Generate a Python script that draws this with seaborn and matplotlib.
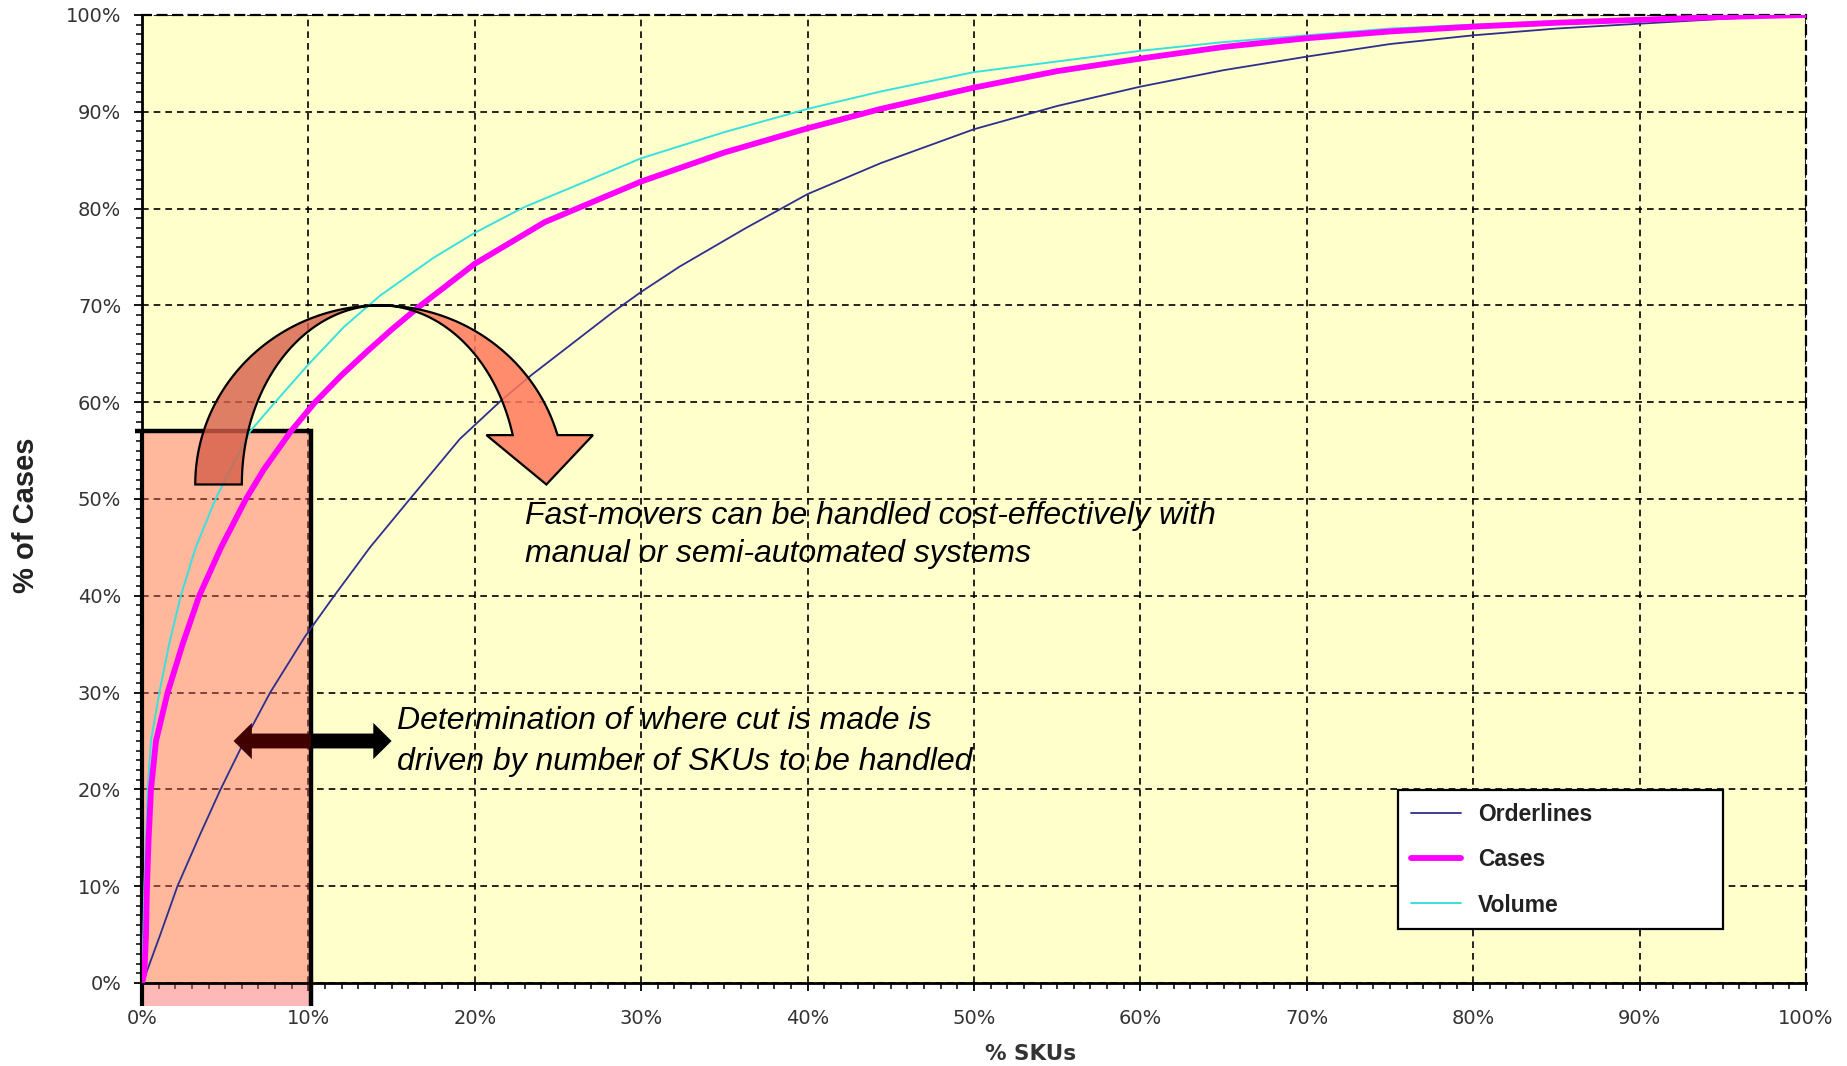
import numpy as np
import pandas as pd
import matplotlib
matplotlib.use("Agg")
import matplotlib.pyplot as plt
import seaborn as sns
from matplotlib.patches import Polygon, Rectangle
from matplotlib.ticker import MultipleLocator, FuncFormatter

# ---------------- data (percent of SKUs -> cumulative percent) ----------------
orderlines_x = [0, 0.14, 1.1, 2.13, 3.4, 4.72, 6.15, 7.7, 9.8, 11.55, 13.7, 16.1, 19.1,
                21.6, 23.4, 28.3, 30, 32.3, 36.3, 40, 44.4, 50, 55, 60, 65, 70, 75,
                80, 85, 90, 95, 100]
orderlines_y = [0, 0.5, 5, 10, 15, 20, 25, 30, 35.8, 40, 45, 50, 56.2,
                60.2, 62.8, 69.3, 71.4, 74.0, 78.0, 81.5, 84.7, 88.2, 90.6, 92.6, 94.3, 95.7, 97.0,
                97.9, 98.6, 99.1, 99.6, 100]

cases_x = [0, 0.14, 0.24, 0.3, 0.4, 0.54, 0.84, 1.54, 2.44, 3.44, 4.75, 6.25, 7.3,
           8.95, 10.4, 12.0, 13.5, 15.0, 16.6, 20, 24.2, 30, 35, 40, 44.4, 50, 55, 60, 65,
           70, 75, 80, 85, 90, 95, 100]
cases_y = [0, 1, 5, 10, 15, 20, 25, 30, 35, 40, 45, 50, 53,
           57, 60, 62.8, 65.2, 67.5, 69.8, 74.3, 78.6, 82.8, 85.8, 88.3, 90.3, 92.5, 94.2, 95.5, 96.7,
           97.6, 98.3, 98.8, 99.2, 99.5, 99.8, 100]

volume_x = [0, 0.04, 0.14, 0.34, 0.54, 1.04, 1.63, 2.33, 3.23, 4.42, 5.3, 6.5, 8.0, 10,
            12.15, 14.3, 17.5, 20, 22.9, 30, 35, 40, 44.4, 50, 55, 60, 65, 70, 75, 80,
            85, 90, 95, 100]
volume_y = [0, 2, 10, 20, 25, 30, 35, 40, 45, 50, 53, 57, 60, 63.9,
            67.8, 71.0, 74.9, 77.5, 80.1, 85.2, 87.9, 90.3, 92.1, 94.1, 95.2, 96.3, 97.2, 97.9, 98.6, 99.0,
            99.35, 99.6, 99.85, 100]

series_names = ["Orderlines", "Cases", "Volume"]
x_ticks = [0, 10, 20, 30, 40, 50, 60, 70, 80, 90, 100]
y_ticks = [0, 10, 20, 30, 40, 50, 60, 70, 80, 90, 100]

note_fast = ["Fast-movers can be handled cost-effectively with",
             "manual or semi-automated systems"]
note_cut = ["Determination of where cut is made is",
            "driven by number of SKUs to be handled"]

# ---------------- figure ----------------
sns.set_style("ticks")
plt.rcParams['font.family'] = ['DejaVu Sans']

W, H = 1847, 1066
fig = plt.figure(figsize=(W / 100, H / 100), dpi=100)
fig.patch.set_facecolor("white")
ax_l, ax_r, ax_t, ax_b = 142, 1806, 15, 983
ax = fig.add_axes([ax_l / W, 1 - ax_b / H, (ax_r - ax_l) / W, (ax_b - ax_t) / H])
ax.set_facecolor("#FFFFCC")

df = pd.concat([
    pd.DataFrame({"x": orderlines_x, "y": orderlines_y, "s": "Orderlines"}),
    pd.DataFrame({"x": cases_x, "y": cases_y, "s": "Cases"}),
    pd.DataFrame({"x": volume_x, "y": volume_y, "s": "Volume"}),
])
styles = {"Orderlines": dict(color="#2E2E8F", lw=1.3, zorder=3.2),
          "Volume": dict(color="#38E0E0", lw=1.4, zorder=3.3),
          "Cases": dict(color="#FF00FF", lw=4.2, zorder=3.4)}
for name in ["Orderlines", "Volume", "Cases"]:
    sub = df[df.s == name]
    sns.lineplot(data=sub, x="x", y="y", ax=ax, label=name, estimator=None,
                 sort=False, **styles[name])
for ln in ax.get_lines():
    ln.set_solid_joinstyle("round")

ax.set_xlim(0, 100)
ax.set_ylim(0, 100)
ax.set_xticks(x_ticks)
ax.set_yticks(y_ticks)
ax.xaxis.set_minor_locator(MultipleLocator(1))
ax.yaxis.set_minor_locator(MultipleLocator(1))
pct = FuncFormatter(lambda v, p: f"{v:.0f}%")
ax.xaxis.set_major_formatter(pct)
ax.yaxis.set_major_formatter(pct)
ax.tick_params(which="major", direction="out", length=6, width=1.3, color="black",
               labelsize=14, labelcolor="#333333")
ax.tick_params(which="minor", direction="out", length=4.5, width=1.1, color="black")
ax.tick_params(axis="x", which="major", pad=13)
ax.tick_params(axis="y", which="major", pad=9)

ax.grid(which="major", color="black", linestyle=(0, (4, 3)), linewidth=1.2)
for s in ["left", "bottom"]:
    ax.spines[s].set_color("black")
    ax.spines[s].set_linewidth(2)
for s in ["top", "right"]:
    ax.spines[s].set_color("black")
    ax.spines[s].set_linewidth(1.6)
    ax.spines[s].set_linestyle((0, (4, 3)))

ax.set_xlabel("% SKUs", fontsize=15.5, fontweight="bold", color="#333333")
ax.xaxis.label.set_va("center")
ax.xaxis.set_label_coords((1031 - ax_l) / (ax_r - ax_l), (ax_b - 1054) / (ax_b - ax_t))
ax.set_ylabel("% of Cases", fontsize=21, fontweight="bold", family="Liberation Sans",
              color="#222222")
ax.yaxis.label.set_va("center")
ax.yaxis.set_label_coords((26 - ax_l) / (ax_r - ax_l), (ax_b - 515) / (ax_b - ax_t))

# ---------------- highlighted fast-mover zone ----------------
zone = Rectangle((0, -2.4), 10.15, 59.4, facecolor=(1.0, 0.39, 0.39, 0.45),
                 edgecolor="none", clip_on=False, zorder=2)
ax.add_patch(zone)
ax.plot([-0.45, 10.15, 10.15], [57, 57, -2.4], color="black", lw=3.2,
        clip_on=False, solid_capstyle="butt", solid_joinstyle="miter", zorder=2.6)
ax.plot([0, 0], [57, -2.4], color="black", lw=3.0, clip_on=False,
        solid_capstyle="butt", zorder=2.6)

# ---------------- double-headed arrow ----------------
ay, hh, sh = 25.0, 1.87, 0.77
xl, xr, hl, xs = 5.5, 15.0, 1.1, 10.15
left_part = [(xl, ay), (xl + hl, ay + hh), (xl + hl, ay + sh), (xs, ay + sh),
             (xs, ay - sh), (xl + hl, ay - sh), (xl + hl, ay - hh)]
right_part = [(xs, ay + sh), (xr - hl, ay + sh), (xr - hl, ay + hh), (xr, ay),
              (xr - hl, ay - hh), (xr - hl, ay - sh), (xs, ay - sh)]
ax.add_patch(Polygon(left_part, closed=True, facecolor="#400000", edgecolor="none", zorder=5))
ax.add_patch(Polygon(right_part, closed=True, facecolor="black", edgecolor="none", zorder=5))

# ---------------- curved arrow ----------------
cx, cy, b, ao, ai = 14.3, 51.5, 18.5, 11.1, 8.3
t = np.linspace(np.pi, np.pi / 2, 80)
outer_l = np.c_[cx + ao * np.cos(t), cy + b * np.sin(t)]
inner_l = np.c_[cx + ai * np.cos(t[::-1]), cy + b * np.sin(t[::-1])]
ax.add_patch(Polygon(np.vstack([outer_l, inner_l]), closed=True,
                     facecolor=(0.84, 0.37, 0.29, 0.8), edgecolor="black", lw=1.6, zorder=6))
base_y = 56.6
th1 = np.arcsin((base_y - cy) / b)
t2 = np.linspace(np.pi / 2, th1, 80)
outer_r = np.c_[cx + ao * np.cos(t2), cy + b * np.sin(t2)]
inner_r = np.c_[cx + ai * np.cos(t2[::-1]), cy + b * np.sin(t2[::-1])]
head = np.array([[27.1, base_y], [24.3, 51.5], [20.7, base_y]])
ax.add_patch(Polygon(np.vstack([outer_r, head, inner_r]), closed=True,
                     facecolor=(1.0, 0.47, 0.36, 0.85), edgecolor="black", lw=1.6, zorder=6))

# ---------------- notes ----------------
for txt, yy in zip(note_fast, [48.2, 44.3]):
    ax.text(23.0, yy, txt, fontsize=23, style="italic", family="Liberation Sans",
            va="center", ha="left", color="black", zorder=7)
for txt, yy in zip(note_cut, [27.1, 22.8]):
    ax.text(15.3, yy, txt, fontsize=23, style="italic", family="Liberation Sans",
            va="center", ha="left", color="black", zorder=7)

# ---------------- legend ----------------
handles, labels = ax.get_legend_handles_labels()
hmap = dict(zip(labels, handles))
lx0 = (1398 - ax_l) / (ax_r - ax_l)
ly1 = (ax_b - 790) / (ax_b - ax_t)
lw_ = (1723 - 1398) / (ax_r - ax_l)
leg = ax.legend([hmap[n] for n in series_names], series_names,
                loc="upper left", bbox_to_anchor=(lx0, ly1 - 0.2, lw_, 0.2),
                mode="expand", borderaxespad=0, frameon=True, fancybox=False,
                framealpha=1, facecolor="white", edgecolor="black",
                prop={"family": "Liberation Sans", "weight": "bold", "size": 16.5},
                borderpad=0.55, labelspacing=0.98, handlelength=2.2, handletextpad=0.75)
leg.get_frame().set_linewidth(1.6)
for tx in leg.get_texts():
    tx.set_color("#222222")
leg.set_zorder(10)

fig.savefig("out.png", dpi=100, facecolor="white")
